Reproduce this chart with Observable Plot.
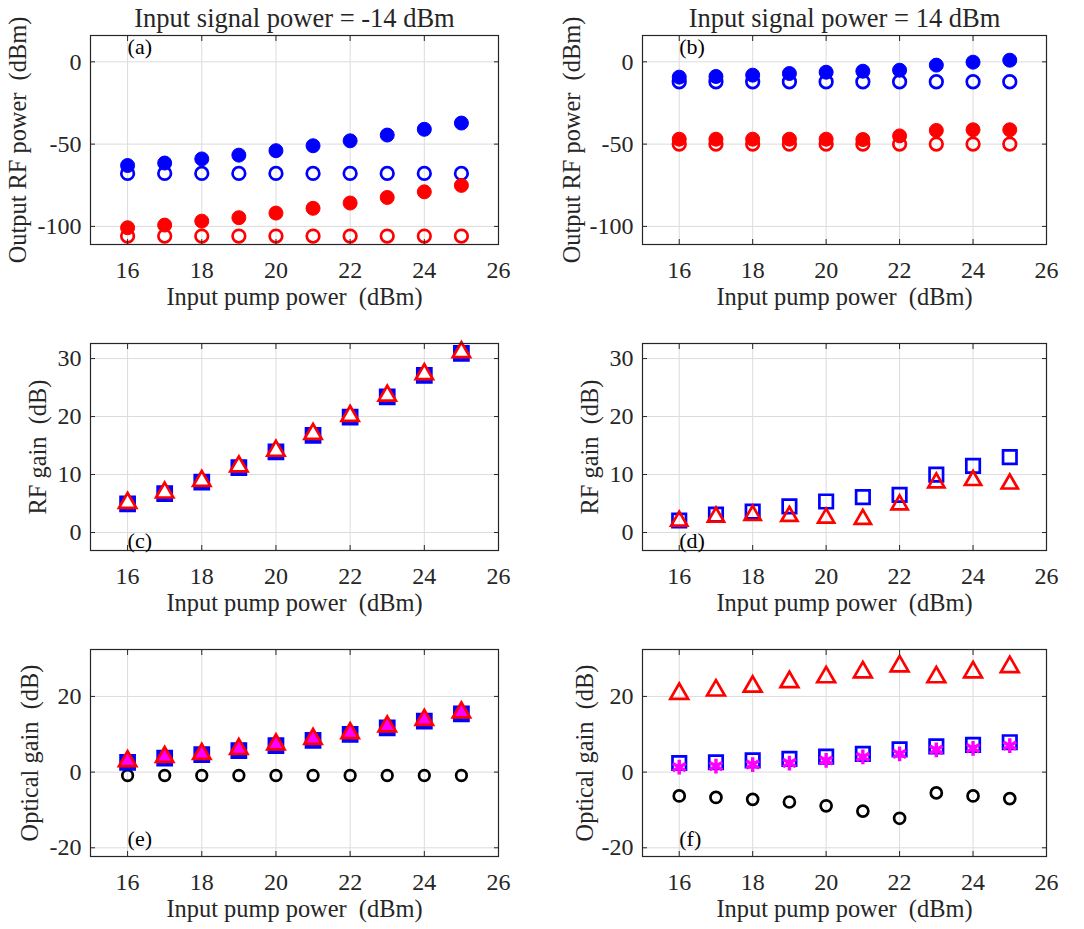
<!DOCTYPE html>
<html><head><meta charset="utf-8">
<script src="https://cdn.jsdelivr.net/npm/d3@7"></script>
<script src="https://cdn.jsdelivr.net/npm/@observablehq/plot@0.6"></script>
<style>
body{margin:0;background:#fff;}
#fig{position:relative;width:1084px;height:929px;font-family:"Liberation Serif","Times New Roman",serif;}
#fig > div, #fig > svg{position:absolute;}
</style></head><body><div id="fig"></div>
<script>
// ---------- data ----------
const pump = [16, 17, 18, 19, 20, 21, 22, 23, 24, 25];
const xTicks = [16, 18, 20, 22, 24, 26];
const powerTicks = [-100, -50, 0];
const rfGainTicks = [0, 10, 20, 30];
const optGainTicks = [-20, 0, 20];
const titles = ["Input signal power = -14 dBm", "Input signal power = 14 dBm"];
const xLabel = "Input pump power  (dBm)";
const yLabels = ["Output RF power  (dBm)", "RF gain  (dB)", "Optical gain  (dB)"];
const panelTags = ["(a)", "(b)", "(c)", "(d)", "(e)", "(f)"];

// (a) signal -14 dBm, output RF power
const aBlueFilled = [-63, -61.5, -59, -56.7, -54, -51, -48, -44.5, -41, -37.2];
const aBlueOpen   = [-67.8, -67.8, -67.8, -67.8, -67.8, -67.8, -67.8, -67.8, -67.8, -67.8];
const aRedFilled  = [-100.8, -99.2, -96.8, -94.7, -91.9, -89, -85.8, -82.4, -79, -75.1];
const aRedOpen    = [-105.9, -105.9, -105.9, -105.9, -105.9, -105.9, -105.9, -105.9, -105.9, -105.9];
// (b) signal 14 dBm, output RF power
const bBlueFilled = [-9.3, -8.9, -8.1, -7.1, -6.3, -5.7, -5.1, -2, -0.2, 1];
const bBlueOpen   = [-12.1, -12.1, -12.1, -12.1, -12.1, -12.1, -12.1, -12.1, -12.1, -12.1];
const bRedFilled  = [-47, -47, -47, -47, -47, -47.2, -45, -41.7, -41.3, -41.3];
const bRedOpen    = [-50, -50, -50, -50, -50, -50, -50, -50, -50, -50];
// (c) RF gain, -14 dBm
const cSquare   = [4.95, 6.7, 8.7, 11.2, 13.9, 16.75, 19.9, 23.4, 27.1, 30.9];
const cTriangle = [5.1, 6.9, 8.9, 11.4, 14.1, 17.0, 20.1, 23.6, 27.3, 31.1];
// (d) RF gain, 14 dBm
const dSquare   = [2.07, 3.1, 3.6, 4.5, 5.35, 6.1, 6.5, 10, 11.5, 13];
const dTriangle = [2.0, 2.7, 3.0, 2.8, 2.5, 2.3, 4.8, 8.6, 9.0, 8.4];
// (e) optical gain, -14 dBm
const eSquare   = [2.6, 3.7, 4.6, 5.7, 7, 8.4, 10, 11.7, 13.5, 15.4];
const eTriangle = [2.9, 4, 4.8, 6.1, 7.3, 8.8, 10.3, 12.1, 13.8, 15.8];
const eCircle   = [-0.9, -0.9, -0.9, -0.9, -0.9, -0.9, -0.9, -0.9, -0.9, -0.9];
// (f) optical gain, 14 dBm
const fTriangle = [20.7, 21.6, 22.6, 23.8, 25.1, 26.4, 28, 25.1, 26.4, 27.8];
const fSquare   = [2.4, 2.6, 3.1, 3.5, 4.1, 4.8, 6, 6.8, 7.2, 7.9];
const fAsterisk = [1.3, 1.6, 2, 2.4, 3.1, 4, 4.8, 5.9, 6.3, 7];
const fCircle   = [-6.3, -6.7, -7.2, -7.9, -8.9, -10.3, -12.2, -5.5, -6.3, -7];

// ---------- styles ----------
const FONT = "'Liberation Serif','Times New Roman',serif";
const INK = "#262626";
const BLUE = "#0000ff", RED = "#ff0000", MAG = "#ff00ff", BLACK = "#000000";
const SW = 2.7;
const filledCircle = c => ({symbol: "circle", fill: c, stroke: c, strokeWidth: 1, r: 7});
const openCircle = (c, r = 6.3) => ({symbol: "circle", fill: "none", stroke: c, strokeWidth: SW, r});
const filledSquare = c => ({symbol: "square", fill: c, stroke: c, strokeWidth: 1.5, r: 8.6});
const openSquare = c => ({symbol: "square", fill: "none", stroke: c, strokeWidth: SW, r: 7.6});
const triangle = (c, fill, r = 6.4) => ({symbol: "triangle", fill, stroke: c, strokeWidth: SW, strokeLinejoin: "miter", r});
const asterisk = c => ({symbol: "asterisk", fill: "none", stroke: c, strokeWidth: 3.4, r: 7});

const series = (vals, style) => ({rows: pump.map((x, i) => ({x, y: vals[i]})), style});

const panels = [
  {left: 0, top: 0, h: 310, mt: 35, mb: 66, ml: 90, mr: 44, yDomain: [-111, 16], yTicks: powerTicks,
   yLabel: yLabels[0], yLabelDx: -72, title: titles[0], tag: panelTags[0], tagY: 9,
   series: [series(aBlueOpen, openCircle(BLUE)), series(aBlueFilled, filledCircle(BLUE)),
            series(aRedOpen, openCircle(RED)), series(aRedFilled, filledCircle(RED))]},
  {left: 542, top: 0, h: 310, mt: 35, mb: 66, ml: 100, mr: 38, yDomain: [-111, 16], yTicks: powerTicks,
   yLabel: yLabels[0], yLabelDx: -70, title: titles[1], tag: panelTags[1], tagY: 9,
   series: [series(bBlueOpen, openCircle(BLUE)), series(bBlueFilled, filledCircle(BLUE)),
            series(bRedOpen, openCircle(RED)), series(bRedFilled, filledCircle(RED))]},
  {left: 0, top: 310, h: 310, mt: 33, mb: 70, ml: 90, mr: 44, yDomain: [-3.1, 32.6], yTicks: rfGainTicks,
   yLabel: yLabels[1], yLabelDx: -52, tag: panelTags[2], tagY: -1.5,
   series: [series(cSquare, filledSquare(BLUE)), series(cTriangle, triangle(RED, "white"))]},
  {left: 542, top: 310, h: 310, mt: 33, mb: 70, ml: 100, mr: 38, yDomain: [-3.1, 32.6], yTicks: rfGainTicks,
   yLabel: yLabels[1], yLabelDx: -52, tag: panelTags[3], tagY: -1.5,
   series: [series(dSquare, openSquare(BLUE)), series(dTriangle, triangle(RED, "none", 6))]},
  {left: 0, top: 620, h: 309, mt: 29, mb: 73, ml: 90, mr: 44, yDomain: [-22.3, 32.4], yTicks: optGainTicks,
   yLabel: yLabels[2], yLabelDx: -60, tag: panelTags[4], tagY: -17.6,
   series: [series(eCircle, openCircle(BLACK, 5.3)), series(eSquare, filledSquare(BLUE)),
            series(eTriangle, triangle(RED, MAG))]},
  {left: 542, top: 620, h: 309, mt: 29, mb: 73, ml: 100, mr: 38, yDomain: [-22.3, 32.4], yTicks: optGainTicks,
   yLabel: yLabels[2], yLabelDx: -57, tag: panelTags[5], tagY: -17.6,
   series: [series(fCircle, openCircle(BLACK, 5.5)), series(fTriangle, triangle(RED, "none", 6.6)),
            series(fSquare, openSquare(BLUE)), series(fAsterisk, asterisk(MAG))]}
];

const fig = document.getElementById("fig");
for (const p of panels) {
  const marks = [
    Plot.gridX({ticks: xTicks, stroke: "#dcdcdc", strokeOpacity: 1}),
    Plot.gridY({ticks: p.yTicks, stroke: "#dcdcdc", strokeOpacity: 1}),
    ...p.series.map(s => Plot.dot(s.rows, {x: "x", y: "y", ...s.style})),
    Plot.frame({stroke: INK, strokeWidth: 1.2}),
    Plot.axisX({ticks: xTicks, tickSize: -5, tickPadding: 21, fontSize: 24, fontFamily: FONT, tickFormat: d => String(d),
                label: null, stroke: INK, fill: INK}),
    Plot.axisX({ticks: xTicks, anchor: "top", tickSize: -5, fill: "none", stroke: INK, label: null}),
    Plot.axisY({ticks: p.yTicks, tickSize: -5, tickPadding: 14, fontSize: 24, fontFamily: FONT, tickFormat: d => String(d),
                label: null, stroke: INK, fill: INK}),
    Plot.axisY({ticks: p.yTicks, anchor: "right", tickSize: -5, fill: "none", stroke: INK, label: null}),
    Plot.text([xLabel], {text: d => d, frameAnchor: "bottom", lineAnchor: "middle", textAnchor: "middle",
                         dy: 53, fontSize: 24.4, fontFamily: FONT, fill: INK}),
    Plot.text([p.yLabel], {text: d => d, frameAnchor: "left", lineAnchor: "middle", textAnchor: "middle",
                           rotate: -90, dx: p.yLabelDx, fontSize: 24.4, fontFamily: FONT, fill: INK}),
    Plot.text([{x: pump[0], y: p.tagY, t: p.tag}], {x: "x", y: "y", text: "t", textAnchor: "start", lineAnchor: "middle",
                         fontSize: 22, fontFamily: FONT, fill: BLACK})
  ];
  if (p.title) marks.push(Plot.text([p.title], {text: d => d, frameAnchor: "top", lineAnchor: "middle", textAnchor: "middle",
                         dy: -17, fontSize: 26.5, fontFamily: FONT, fill: INK}));
  const chart = Plot.plot({
    width: 542, height: p.h,
    marginTop: p.mt, marginBottom: p.mb, marginLeft: p.ml, marginRight: p.mr,
    x: {domain: [15, 26]},
    y: {domain: p.yDomain},
    style: {fontFamily: FONT, color: INK, background: "transparent", overflow: "visible"},
    marks
  });
  chart.style.left = p.left + "px";
  chart.style.top = p.top + "px";
  fig.appendChild(chart);
}
</script></body></html>
